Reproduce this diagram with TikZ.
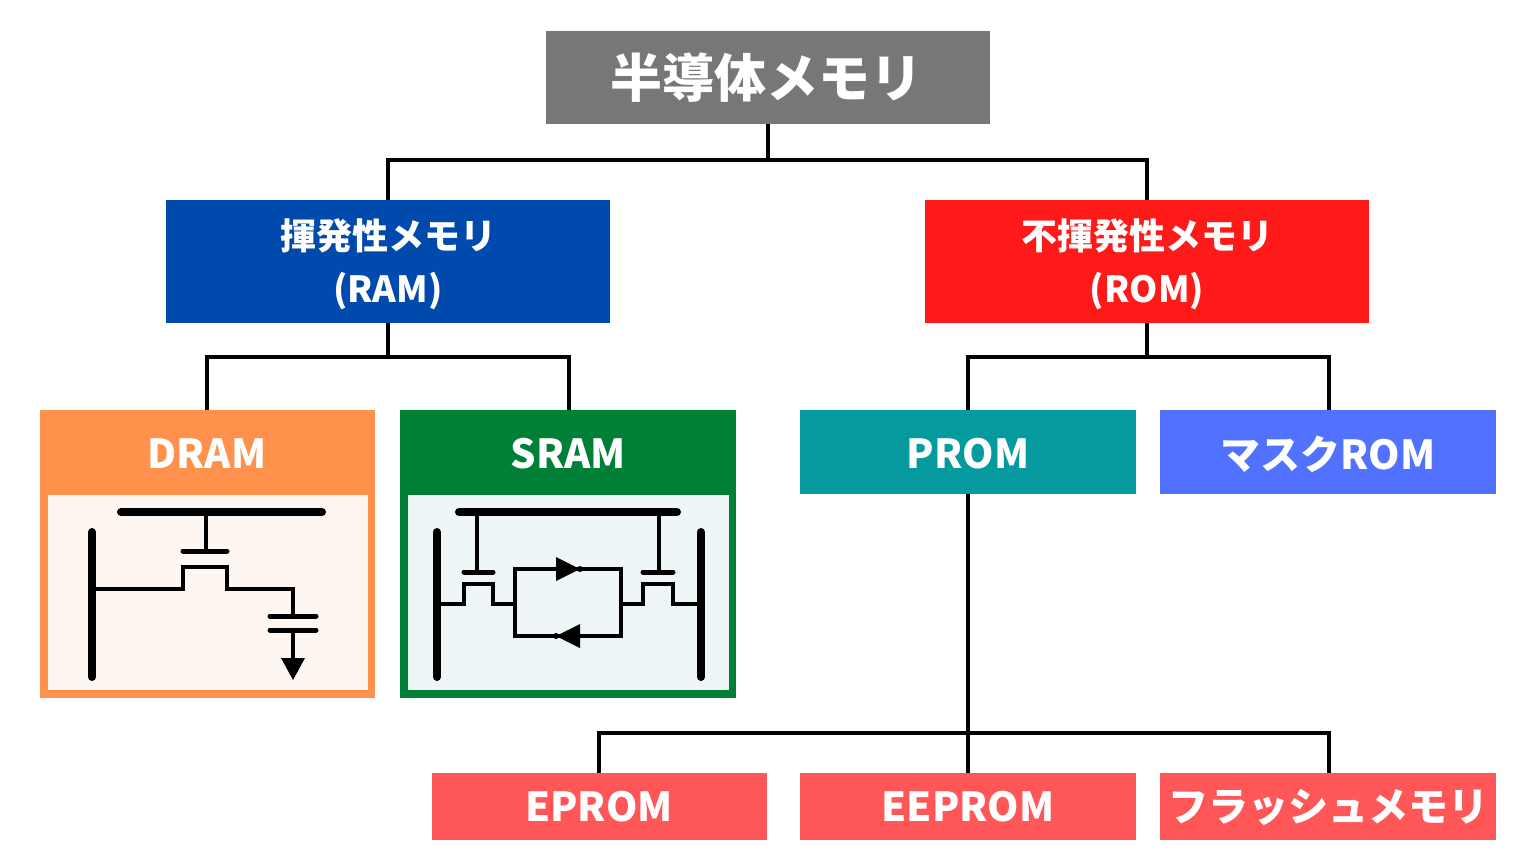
\documentclass[tikz,border=0pt]{standalone}
\usepackage{fontspec}
\setmainfont{Noto Sans CJK JP}[BoldFont={Noto Sans CJK JP Black}]
\begin{document}
\begin{tikzpicture}[x=1pt,y=-1pt,
 box/.style={draw=none,inner sep=0pt,font=\bfseries,text=white,align=center},
 lbl/.style={box,font=\bfseries\fontsize{40}{44}\selectfont},
 conn/.style={line width=4.5pt,line cap=rect},
 thick bar/.style={line width=8pt,line cap=round},
 wire/.style={line width=3.5pt},
 plate/.style={line width=5pt,line cap=round}]
\definecolor{cgray}{HTML}{777777}
\definecolor{cblue}{HTML}{004AAD}
\definecolor{cred}{HTML}{FF1A1A}
\definecolor{corange}{HTML}{FF914D}
\definecolor{cgreen}{HTML}{008037}
\definecolor{cteal}{HTML}{049A9E}
\definecolor{cmask}{HTML}{5271FF}
\definecolor{cpink}{HTML}{FF5757}
\definecolor{dbody}{HTML}{FEF6F0}
\definecolor{sbody}{HTML}{EDF5F6}
\useasboundingbox (0,0) rectangle (1536,864);
% connectors
\coordinate (j1) at (768,160);
\draw[conn] (768,124) -- (j1);
\draw[conn] (388,200) -- (388,160) -- (1147,160) -- (1147,200);
\draw[conn] (388,323) -- (388,357);
\draw[conn] (207,410) -- (207,357) -- (569,357) -- (569,410);
\draw[conn] (1147,323) -- (1147,357);
\draw[conn] (968,410) -- (968,357) -- (1329,357) -- (1329,410);
\draw[conn] (968,494) -- (968,773);
\draw[conn] (599,773) -- (599,733) -- (1329,733) -- (1329,773);
% boxes
\fill[cgray] (546,31) rectangle (990,124);
\node[box,font=\bfseries\fontsize{52}{56}\selectfont] (top) at (766,78) {半導体メモリ};
\fill[cblue] (166,200) rectangle (610,323);
\node[box,font=\bfseries\fontsize{36}{53}\selectfont] (ram) at (388,264) {揮発性メモリ\\(RAM)};
\fill[cred] (925,200) rectangle (1369,323);
\node[box,font=\bfseries\fontsize{36}{53}\selectfont] (rom) at (1147,264) {不揮発性メモリ\\(ROM)};
% DRAM
\fill[corange] (40,410) rectangle (375,698);
\fill[dbody] (48,495) rectangle (368,690);
\node[lbl] (dram) at (207,454) {DRAM};
% SRAM
\fill[cgreen] (400,410) rectangle (736,698);
\fill[sbody] (408,495) rectangle (729,690);
\node[lbl] (sram) at (568,454) {SRAM};
% PROM etc
\fill[cteal] (800,410) rectangle (1136,494);
\node[lbl] (prom) at (968,454) {PROM};
\fill[cmask] (1160,410) rectangle (1496,494);
\node[lbl] (mask) at (1328,454) {マスクROM};
\fill[cpink] (432,773) rectangle (767,840);
\node[lbl] (eprom) at (599,807) {EPROM};
\fill[cpink] (800,773) rectangle (1136,840);
\node[lbl] (eeprom) at (968,807) {EEPROM};
\fill[cpink] (1160,773) rectangle (1496,840);
\node[lbl] (flash) at (1328,807) {フラッシュメモリ};
% DRAM circuit
\draw[thick bar] (121,512) -- (322,512);
\draw[thick bar] (92,532) -- (92,677);
\draw[wire] (206,512) -- (206,551);
\draw[plate] (183,551) -- (227,551);
\draw[wire,line join=miter] (92,589) -- (183,589) -- (183,567) -- (227,567) -- (227,589) -- (293,589) -- (293,616);
\draw[plate] (270,616) -- (316,616);
\draw[plate] (270,630) -- (316,630);
\draw[wire] (293,630) -- (293,660);
\fill (281,658) -- (305,658) -- (293,680) -- cycle;
% SRAM circuit
\draw[thick bar] (459,512) -- (677,512);
\draw[thick bar] (437,532) -- (437,677);
\draw[thick bar] (701,532) -- (701,677);
\draw[wire] (477,512) -- (477,572);
\draw[plate] (464,572) -- (493,572);
\draw[wire,line join=miter] (437,604) -- (464,604) -- (464,584) -- (493,584) -- (493,604) -- (515,604);
\draw[wire] (659,512) -- (659,572);
\draw[plate] (643,572) -- (673,572);
\draw[wire,line join=miter] (701,604) -- (673,604) -- (673,584) -- (643,584) -- (643,604) -- (621,604);
\draw[wire] (515,569) rectangle (621,636);
\fill (556,557) -- (580,569) -- (556,581) -- cycle;
\fill (580,569) circle (3);
\fill (580,624) -- (556,636) -- (580,648) -- cycle;
\fill (556,636) circle (3);
\end{tikzpicture}
\end{document}
